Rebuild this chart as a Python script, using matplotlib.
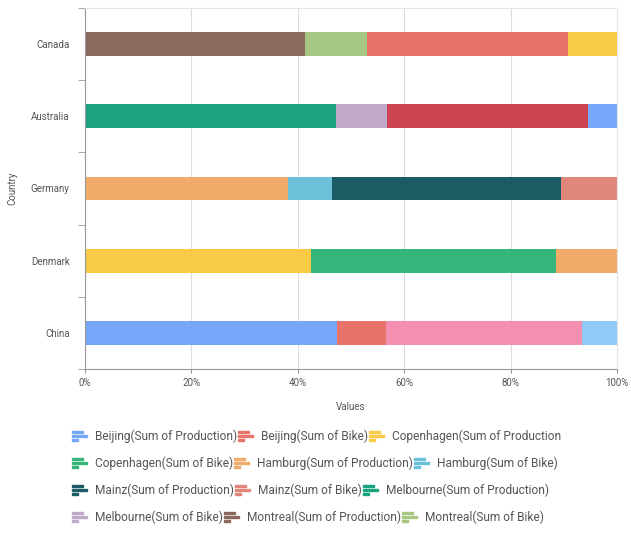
import numpy as np
import matplotlib.pyplot as plt
from matplotlib.patches import Rectangle

plt.rcParams['font.family'] = ['Roboto', 'DejaVu Sans']

countries = ['China', 'Denmark', 'Germany', 'Australia', 'Canada']

# share (%) of each series in each country, order follows `countries`
beijing_prod = [47.4, 0, 0, 0, 0]
beijing_bike = [9.1, 0, 0, 0, 0]
copenhagen_prod = [0, 42.5, 0, 0, 0]
copenhagen_bike = [0, 46.1, 0, 0, 0]
hamburg_prod = [0, 0, 38.2, 0, 0]
hamburg_bike = [0, 0, 8.2, 0, 0]
mainz_prod = [0, 0, 43.1, 0, 0]
mainz_bike = [0, 0, 10.5, 0, 0]
melbourne_prod = [0, 0, 0, 47.1, 0]
melbourne_bike = [0, 0, 0, 9.7, 0]
montreal_prod = [0, 0, 0, 0, 41.3]
montreal_bike = [0, 0, 0, 0, 11.7]
odense_prod = [0, 11.4, 0, 0, 0]
shanghai_prod = [36.9, 0, 0, 0, 0]
shanghai_bike = [6.6, 0, 0, 0, 0]
sydney_prod = [0, 0, 0, 37.7, 0]
sydney_bike = [0, 0, 0, 5.5, 0]
toronto_prod = [0, 0, 0, 0, 37.8]
toronto_bike = [0, 0, 0, 0, 9.2]

series = [
    ('Beijing(Sum of Production)', beijing_prod, '#76a7f8', True),
    ('Beijing(Sum of Bike)', beijing_bike, '#e8736a', True),
    ('Copenhagen(Sum of Production', copenhagen_prod, '#f9ca45', True),
    ('Copenhagen(Sum of Bike)', copenhagen_bike, '#35b57a', True),
    ('Hamburg(Sum of Production)', hamburg_prod, '#f0aa6a', True),
    ('Hamburg(Sum of Bike)', hamburg_bike, '#6cc1d9', True),
    ('Mainz(Sum of Production)', mainz_prod, '#1c5a64', True),
    ('Mainz(Sum of Bike)', mainz_bike, '#e1867a', True),
    ('Melbourne(Sum of Production)', melbourne_prod, '#1ba37f', True),
    ('Melbourne(Sum of Bike)', melbourne_bike, '#bfa9c7', True),
    ('Montreal(Sum of Production)', montreal_prod, '#8a6a5d', True),
    ('Montreal(Sum of Bike)', montreal_bike, '#a6c683', True),
    ('Odense(Sum of Production)', odense_prod, '#f0aa6a', False),
    ('Shanghai(Sum of Production)', shanghai_prod, '#f48fb1', False),
    ('Shanghai(Sum of Bike)', shanghai_bike, '#8fcaf8', False),
    ('Sydney(Sum of Production)', sydney_prod, '#cc4452', False),
    ('Sydney(Sum of Bike)', sydney_bike, '#76a7f8', False),
    ('Toronto(Sum of Production)', toronto_prod, '#e8736a', False),
    ('Toronto(Sum of Bike)', toronto_bike, '#f9ca45', False),
]

W, H = 631, 538
fig = plt.figure(figsize=(W / 100, H / 100), dpi=100)
ax = fig.add_axes([85 / W, 1 - 369 / H, 532 / W, 361 / H])

totals = np.sum([s[1] for s in series], axis=0)
y = np.arange(len(countries))
left = np.zeros(len(countries))
for name, vals, col, _ in series:
    v = np.array(vals) / totals
    ax.barh(y, v, left=left, height=0.33, color=col, zorder=2)
    left += v

ax.set_xlim(0, 1)
ax.set_ylim(-0.5, len(countries) - 0.5)
ax.set_xticks(np.linspace(0, 1, 6))
ax.set_xticklabels(['0%', '20%', '40%', '60%', '80%', '100%'])
ax.set_yticks(y)
ax.set_yticklabels(countries)
ax.set_yticks(np.arange(-0.5, len(countries)), minor=True)
ax.tick_params(axis='y', which='major', length=0, pad=11, labelsize=7, labelcolor='#555555')
ax.tick_params(axis='y', which='minor', length=5, color='#999999', direction='out')
ax.tick_params(axis='x', length=3, color='#999999', labelsize=7, labelcolor='#555555')
ax.grid(axis='x', color='#dddddd', lw=0.8, zorder=0)
for s in ['top', 'right']:
    ax.spines[s].set_color('#e6e6e6')
for s in ['left', 'bottom']:
    ax.spines[s].set_color('#999999')
ax.set_xlabel('Values', fontsize=7, color='#555555', labelpad=10)
ax.set_ylabel('Country', fontsize=7, color='#555555')
ax.yaxis.set_label_coords(-0.128, 0.5)

# legend drawn as flow layout (rows of 3 items)
legend_items = [s for s in series if s[3]]
renderer = fig.canvas.get_renderer()
row_y = [436, 463, 490, 517]
for r in range(4):
    x = 72
    for name, _, col, _ in legend_items[r * 3:r * 3 + 3]:
        yc = row_y[r]
        for dy, ln in [(-4, 11), (0, 15), (4, 6)]:
            fig.patches.append(Rectangle((x / W, 1 - (yc + dy + 1) / H), ln / W, 2 / H,
                                         transform=fig.transFigure, color=col))
        t = fig.text((x + 23) / W, 1 - yc / H, name, fontsize=8.6, color='#555555',
                     va='center', ha='left')
        bb = t.get_window_extent(renderer)
        x = x + 23 + bb.width + 1

fig.savefig('out.png', dpi=100)
